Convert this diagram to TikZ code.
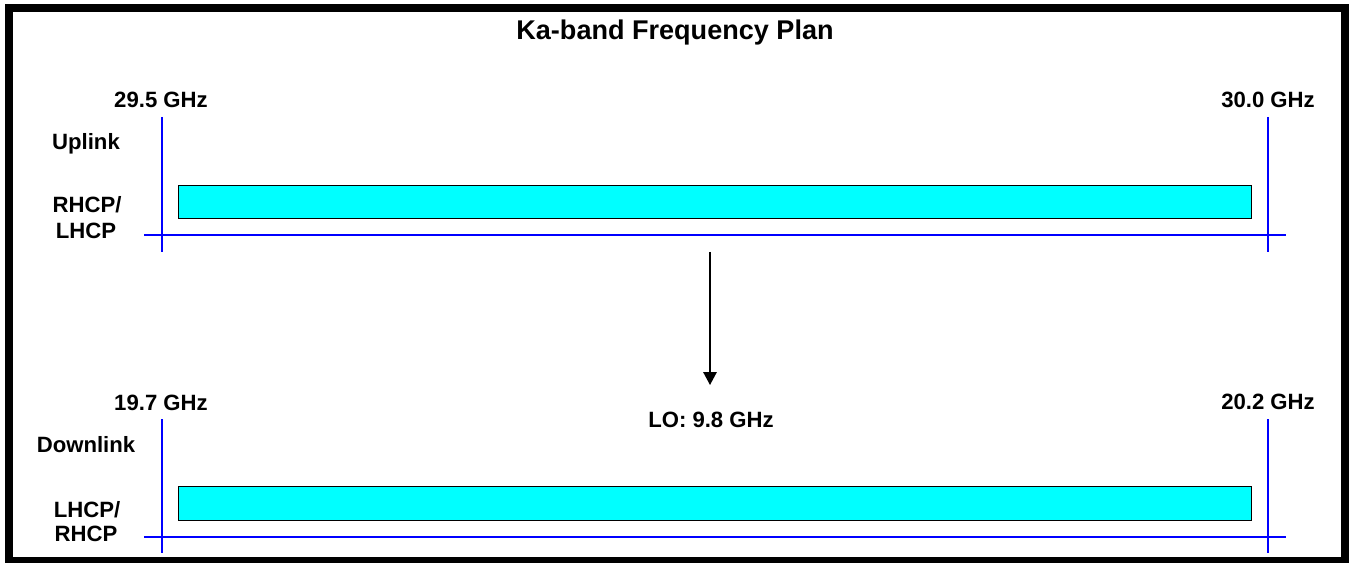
\documentclass[tikz,border=0pt]{standalone}
\usepackage{fontspec}
\setmainfont{Liberation Sans}
\usetikzlibrary{arrows.meta}
\definecolor{bandcyan}{RGB}{0,255,255}
\definecolor{axisblue}{RGB}{0,0,255}
\tikzset{
  lbl/.style={font=\fontsize{12.6}{15}\selectfont\bfseries, anchor=base, inner sep=0pt},
  axis/.style={axisblue, line width=1.2pt},
  band/.style={draw=black, fill=bandcyan, line width=0.5pt, inner sep=0pt,
               minimum width=21.48cm, minimum height=0.67cm}
}
\begin{document}
\begin{tikzpicture}[x=0.02cm, y=-0.02cm]
\useasboundingbox (0,0) rectangle (1351,563);
% Frame
\draw[line width=4.5pt] (9,8) rectangle (1345,561);

% Title
\node[font=\fontsize{15.4}{18}\selectfont\bfseries, anchor=base] (title) at (675,40) {Ka-band Frequency Plan};

% Uplink
\draw[axis] (162,117) -- (162,252);
\draw[axis] (1268,117) -- (1268,252);
\draw[axis] (144,235) -- (1286,235);
\node[band] (upband) at (715,202) {};
\node[lbl] (uplo) at (161,108) {29.5 GHz};
\node[lbl] (uphi) at (1268,108) {30.0 GHz};
\node[lbl] (uplink) at (86,150) {Uplink};
\node[lbl] (uppolA) at (87,213) {RHCP/};
\node[lbl] (uppolB) at (86,239) {LHCP};

% Downlink
\draw[axis] (162,419) -- (162,553);
\draw[axis] (1268,419) -- (1268,553);
\draw[axis] (144,537) -- (1286,537);
\node[band] (dnband) at (715,503.5) {};
\node[lbl] (dnlo) at (161,411) {19.7 GHz};
\node[lbl] (dnhi) at (1268,410) {20.2 GHz};
\node[lbl] (downlink) at (86,452) {Downlink};
\node[lbl] (dnpolA) at (87,517) {LHCP/};
\node[lbl] (dnpolB) at (86,541) {RHCP};

% LO
\node[lbl] (lo) at (711,427) {LO: 9.8 GHz};
\coordinate (lotop) at (710,252);
\coordinate (lotip) at (710,385);
\draw[line width=0.9pt, -{Triangle[width=0.27cm, length=0.26cm]}] (lotop) -- (lotip);
\end{tikzpicture}
\end{document}
